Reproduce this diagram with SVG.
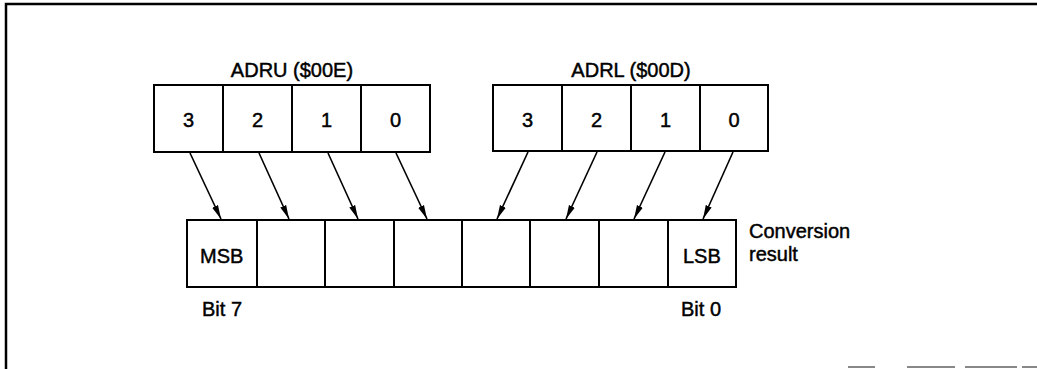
<svg xmlns="http://www.w3.org/2000/svg" width="1037" height="369" viewBox="0 0 1037 369">
<style>
  .cell { fill: #fff; stroke: #000; stroke-width: 2; }
  .lbl { font-family: "Liberation Sans", Arial, sans-serif; font-size: 20px; fill: #000; stroke: #000; stroke-width: 0.45; }
  .mid { text-anchor: middle; }
  .conn { stroke: #000; stroke-width: 1.6; fill: none; marker-end: url(#ah); }
  .frame { stroke: #000; stroke-width: 2.5; fill: none; }
</style>
<defs>
  <marker id="ah" markerUnits="userSpaceOnUse" viewBox="0 0 14 8" refX="14" refY="4" markerWidth="14" markerHeight="8" orient="auto">
    <path d="M0,0.8 L14,4 L0,7.2 Z" fill="#000"/>
  </marker>
</defs>
<rect width="1037" height="369" fill="#fff"/>
<g id="frame">
  <path class="frame" d="M6,369 L6,4 L1037,4"/>
  <g stroke="#888" stroke-width="2">
    <line x1="848" y1="367" x2="875" y2="367"/>
    <line x1="907" y1="367" x2="955" y2="367"/>
    <line x1="965" y1="367" x2="1017" y2="367"/>
    <line x1="1022" y1="367" x2="1037" y2="367"/>
  </g>
</g>
<g id="adru">
  <text class="lbl mid" x="292" y="77">ADRU ($00E)</text>
  <rect class="cell" x="154" y="85" width="69" height="67"/>
  <rect class="cell" x="223" y="85" width="69" height="67"/>
  <rect class="cell" x="292" y="85" width="69" height="67"/>
  <rect class="cell" x="361" y="85" width="69" height="67"/>
  <text class="lbl mid" x="188.5" y="127">3</text>
  <text class="lbl mid" x="257.5" y="127">2</text>
  <text class="lbl mid" x="326.5" y="127">1</text>
  <text class="lbl mid" x="395.5" y="127">0</text>
</g>
<g id="adrl">
  <text class="lbl mid" x="631" y="77">ADRL ($00D)</text>
  <rect class="cell" x="493" y="85" width="69" height="66"/>
  <rect class="cell" x="562" y="85" width="69" height="66"/>
  <rect class="cell" x="631" y="85" width="69" height="66"/>
  <rect class="cell" x="700" y="85" width="68" height="66"/>
  <text class="lbl mid" x="527.5" y="127">3</text>
  <text class="lbl mid" x="596.5" y="127">2</text>
  <text class="lbl mid" x="665.5" y="127">1</text>
  <text class="lbl mid" x="734" y="127">0</text>
</g>
<g id="result">
  <rect class="cell" x="187" y="220" width="70" height="67"/>
  <rect class="cell" x="257" y="220" width="68" height="67"/>
  <rect class="cell" x="325" y="220" width="69" height="67"/>
  <rect class="cell" x="394" y="220" width="68" height="67"/>
  <rect class="cell" x="462" y="220" width="68" height="67"/>
  <rect class="cell" x="530" y="220" width="69" height="67"/>
  <rect class="cell" x="599" y="220" width="69" height="67"/>
  <rect class="cell" x="668" y="220" width="68" height="67"/>
  <text class="lbl" x="200" y="263">MSB</text>
  <text class="lbl" x="683" y="263">LSB</text>
  <text class="lbl" x="749" y="238">Conversion</text>
  <text class="lbl" x="749" y="261">result</text>
  <text class="lbl" x="202" y="316">Bit 7</text>
  <text class="lbl" x="681" y="316">Bit 0</text>
</g>
<g id="connectors">
  <line class="conn" x1="190" y1="153" x2="221" y2="219"/>
  <line class="conn" x1="259" y1="153" x2="289" y2="219"/>
  <line class="conn" x1="328" y1="153" x2="358" y2="219"/>
  <line class="conn" x1="396" y1="153" x2="427" y2="219"/>
  <line class="conn" x1="528" y1="152" x2="497" y2="219"/>
  <line class="conn" x1="597" y1="152" x2="566" y2="219"/>
  <line class="conn" x1="665" y1="152" x2="634" y2="219"/>
  <line class="conn" x1="733" y1="152" x2="703" y2="219"/>
</g>
</svg>
